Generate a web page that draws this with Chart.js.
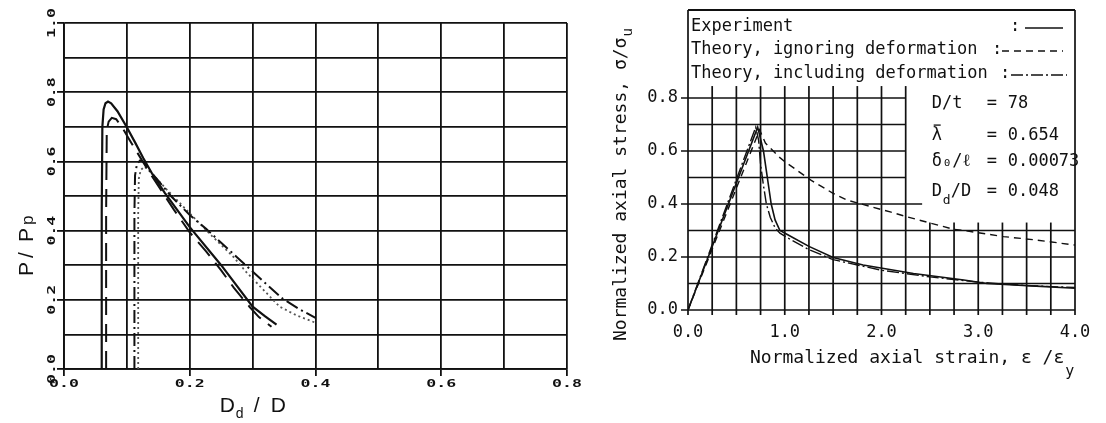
<!DOCTYPE html>
<html>
<head>
<meta charset="utf-8">
<script src="https://cdn.jsdelivr.net/npm/chart.js@4.4.1/dist/chart.umd.min.js"></script>
<style>
  html, body { margin: 0; padding: 0; background: #fff; }
  #wrap { position: relative; width: 1106px; height: 423px; overflow: hidden; }
  #leftBox { position: absolute; left: 0; top: 0; width: 585px; height: 423px; }
  #rightBox { position: absolute; left: 580px; top: 0; width: 526px; height: 423px; }
</style>
</head>
<body>
<div id="wrap">
  <div id="leftBox"><canvas id="dentChart"></canvas></div>
  <div id="rightBox"><canvas id="stressChart"></canvas></div>
</div>
<script>
// ---- left panel: P/Pp against dent depth Dd/D ----
const dentTicks = [0, 0.2, 0.4, 0.6, 0.8];
const loadTicks = [0, 0.2, 0.4, 0.6, 0.8, 1.0];

const testDentX = [0.060, 0.060, 0.061, 0.063, 0.066, 0.070, 0.075, 0.085, 0.0995, 0.113, 0.126, 0.140, 0.160, 0.180, 0.200, 0.250, 0.300, 0.320, 0.338];
const testLoadY = [0.000, 0.450, 0.700, 0.750, 0.768, 0.773, 0.768, 0.745, 0.700, 0.655, 0.610, 0.565, 0.510, 0.460, 0.410, 0.300, 0.180, 0.152, 0.128];

const calcADentX = [0.067, 0.067, 0.068, 0.071, 0.076, 0.083, 0.092, 0.105, 0.115, 0.137, 0.155, 0.175, 0.200, 0.226, 0.250, 0.270, 0.295, 0.310, 0.330];
const calcALoadY = [0.000, 0.450, 0.690, 0.715, 0.726, 0.722, 0.700, 0.660, 0.630, 0.565, 0.515, 0.460, 0.395, 0.340, 0.285, 0.235, 0.180, 0.150, 0.122];

const calcBDentX = [0.112, 0.112, 0.113, 0.116, 0.121, 0.127, 0.137, 0.152, 0.170, 0.200, 0.226, 0.250, 0.295, 0.325, 0.348, 0.375, 0.400];
const calcBLoadY = [0.000, 0.450, 0.560, 0.592, 0.603, 0.598, 0.572, 0.540, 0.500, 0.445, 0.405, 0.365, 0.290, 0.240, 0.203, 0.172, 0.148];

const calcCDentX = [0.118, 0.118, 0.119, 0.122, 0.128, 0.140, 0.160, 0.200, 0.235, 0.269, 0.290, 0.306, 0.343, 0.370, 0.401];
const calcCLoadY = [0.000, 0.450, 0.550, 0.575, 0.585, 0.565, 0.525, 0.450, 0.385, 0.325, 0.280, 0.250, 0.180, 0.155, 0.133];

// ---- right panel: normalized stress-strain ----
const strainTicks = [0, 1, 2, 3, 4];
const stressTicks = [0, 0.2, 0.4, 0.6, 0.8];
const seriesLabels = ['Experiment', 'Theory, ignoring deformation', 'Theory, including deformation'];

const expStrain = [0, 0.72, 0.78, 0.82, 0.86, 0.90, 0.95, 1.05, 1.25, 1.50, 1.81, 2.33, 2.85, 3.09, 3.60, 4.00];
const expStress = [0, 0.690, 0.600, 0.500, 0.400, 0.340, 0.300, 0.280, 0.240, 0.198, 0.170, 0.138, 0.113, 0.100, 0.090, 0.082];

const ignStrain = [0, 0.74, 0.80, 0.95, 1.00, 1.27, 1.50, 1.64, 2.09, 2.26, 2.74, 2.85, 3.26, 3.60, 4.00];
const ignStress = [0, 0.680, 0.630, 0.575, 0.560, 0.490, 0.440, 0.415, 0.370, 0.352, 0.305, 0.300, 0.277, 0.264, 0.245];

const incStrain = [0, 0.70, 0.73, 0.75, 0.78, 0.81, 0.85, 0.90, 0.95, 1.05, 1.25, 1.50, 2.00, 2.50, 3.00, 3.50, 4.00];
const incStress = [0, 0.690, 0.640, 0.550, 0.470, 0.400, 0.350, 0.310, 0.290, 0.268, 0.228, 0.190, 0.150, 0.125, 0.105, 0.092, 0.085];

const INK = '#111';

function pts(xs, ys) {
  return xs.map((x, i) => ({ x: x, y: ys[i] }));
}

function curve(label, xs, ys, dash, width, color) {
  return {
    label: label,
    data: pts(xs, ys),
    showLine: true,
    borderColor: color || INK,
    borderWidth: width,
    borderDash: dash,
    pointRadius: 0,
    tension: 0,
    fill: false
  };
}

function stretched(ctx, text, x, y, angle) {
  ctx.save();
  ctx.translate(x, y);
  ctx.rotate(angle);
  ctx.scale(1.5, 1);
  ctx.fillText(text, 0, 0);
  ctx.restore();
}

// keep the plot box exactly where the layout padding puts it
function noLabelPadding(s) {
  s.paddingTop = 0;
  s.paddingBottom = 0;
}

// plotter style tick labels and titles for the left panel
const dentLabels = {
  id: 'dentLabels',
  afterDraw(chart) {
    const { ctx, chartArea: a, scales: { x, y } } = chart;
    ctx.save();
    ctx.fillStyle = INK;
    ctx.font = 'bold 11px "DejaVu Sans Mono"';
    ctx.textAlign = 'center';
    ctx.textBaseline = 'middle';
    dentTicks.forEach(v => stretched(ctx, v.toFixed(1), x.getPixelForValue(v), a.bottom + 15, 0));
    loadTicks.forEach(v => stretched(ctx, v.toFixed(1), a.left - 12, y.getPixelForValue(v), -Math.PI / 2));

    ctx.textAlign = 'left';
    ctx.textBaseline = 'alphabetic';
    const big = '21px "Liberation Sans"';
    const small = '14px "Liberation Sans"';
    const tx = x.getPixelForValue(0.3) - 33;
    const ty = a.bottom + 43;
    ctx.font = big;
    ctx.fillText('D', tx, ty);
    ctx.font = small;
    ctx.fillText('d', tx + 16, ty + 6);
    ctx.font = big;
    ctx.fillText('/', tx + 34, ty);
    ctx.fillText('D', tx + 51, ty);

    ctx.translate(a.left - 31, y.getPixelForValue(0.37) + 35);
    ctx.rotate(-Math.PI / 2);
    ctx.font = big;
    ctx.fillText('P', 0, 0);
    ctx.fillText('/', 18, 0);
    ctx.fillText('P', 34, 0);
    ctx.font = '17px "Liberation Sans"';
    ctx.fillText('p', 51, 0);
    ctx.restore();
  }
};

new Chart(document.getElementById('dentChart'), {
  type: 'scatter',
  data: {
    datasets: [
      curve('test', testDentX, testLoadY, [], 2.2),
      curve('calc A', calcADentX, calcALoadY, [18, 9], 2),
      curve('calc B', calcBDentX, calcBLoadY, [13, 4, 2, 4], 2),
      curve('calc C', calcCDentX, calcCLoadY, [2, 3], 1.8, '#555')
    ]
  },
  options: {
    animation: false,
    responsive: true,
    maintainAspectRatio: false,
    devicePixelRatio: 1,
    layout: { padding: { top: 23, right: 18, left: 0, bottom: 0 } },
    plugins: { legend: { display: false }, tooltip: { enabled: false } },
    scales: {
      x: {
        type: 'linear', min: 0, max: 0.8,
        ticks: { display: false, stepSize: 0.1 },
        grid: {
          color: INK, lineWidth: 1.8, drawTicks: true, tickLength: 7,
          tickColor: c => (Math.round(c.tick.value * 10) % 2 === 0 ? INK : 'rgba(0,0,0,0)')
        },
        border: { color: INK, width: 1.8 },
        afterFit: s => { s.height = 54; }
      },
      y: {
        type: 'linear', min: 0, max: 1.0,
        ticks: { display: false, stepSize: 0.1 },
        grid: {
          color: INK, lineWidth: 1.8, drawTicks: true, tickLength: 7,
          tickColor: c => (Math.round(c.tick.value * 10) % 2 === 0 ? INK : 'rgba(0,0,0,0)')
        },
        border: { color: INK, width: 1.8 },
        afterFit: s => { s.width = 64; noLabelPadding(s); }
      }
    }
  },
  plugins: [dentLabels]
});

// grid, legend box, parameter block and titles for the right panel
const stressFrame = {
  id: 'stressFrame',
  beforeDatasetsDraw(chart) {
    const { ctx, scales: { x, y } } = chart;
    const X = v => x.getPixelForValue(v);
    const Y = v => y.getPixelForValue(v);
    const seg = (x1, y1, x2, y2) => { ctx.beginPath(); ctx.moveTo(x1, y1); ctx.lineTo(x2, y2); ctx.stroke(); };
    ctx.save();
    ctx.strokeStyle = INK;
    ctx.lineWidth = 1.7;
    for (let i = 0; i <= 8; i++) {
      const end = i <= 3 ? 4 : (i === 4 ? 2.42 : 2.25);
      seg(X(0) - (i % 2 ? 0 : 7), Y(i / 10), X(end), Y(i / 10));
    }
    for (let j = 0; j <= 16; j++) {
      const top = (j === 0 || j === 16) ? y.max : (j <= 9 ? 0.845 : 0.33);
      seg(X(j / 4), Y(0) + 5, X(j / 4), Y(top));
    }
    ctx.lineWidth = 2;
    seg(X(0), Y(y.max), X(4), Y(y.max));
    ctx.restore();
  },
  afterDraw(chart) {
    const { ctx, chartArea: a, scales: { x, y } } = chart;
    const Y = v => y.getPixelForValue(v);
    const mono = s => s + 'px "DejaVu Sans Mono"';
    ctx.save();
    ctx.fillStyle = INK;
    ctx.strokeStyle = INK;
    ctx.textBaseline = 'middle';
    ctx.textAlign = 'left';

    // legend rows
    const rows = [
      { y: a.top + 17, colon: 430, from: 445, to: 483 },
      { y: a.top + 40, colon: 412, from: 422, to: 483 },
      { y: a.top + 64, colon: 420, from: 431, to: 487 }
    ];
    chart.data.datasets.forEach((ds, i) => {
      const r = rows[i];
      ctx.font = mono(17);
      ctx.fillText(ds.label, a.left + 3, r.y);
      ctx.fillText(':', r.colon, r.y);
      ctx.lineWidth = 1.4;
      ctx.setLineDash(ds.borderDash || []);
      ctx.beginPath();
      ctx.moveTo(r.from, r.y + 1);
      ctx.lineTo(r.to, r.y + 1);
      ctx.stroke();
    });
    ctx.setLineDash([]);

    // specimen parameters
    const px = x.getPixelForValue(2.25) + 26;
    ctx.font = mono(17);
    ctx.fillText('D/t', px, Y(0.78));
    ctx.fillText('λ', px, Y(0.66));
    ctx.lineWidth = 1.3;
    ctx.beginPath();
    ctx.moveTo(px + 2, Y(0.66) - 10);
    ctx.lineTo(px + 9, Y(0.66) - 10);
    ctx.stroke();
    ctx.fillText('δ\u2080/\u2113', px, Y(0.56));
    ctx.fillText('D', px, Y(0.445));
    ctx.font = mono(13);
    ctx.fillText('d', px + 11, Y(0.445) + 9);
    ctx.font = mono(17);
    ctx.fillText('/D', px + 19, Y(0.445));
    const eq = px + 55, val = px + 76;
    [['78', 0.78], ['0.654', 0.66], ['0.00073', 0.56], ['0.048', 0.445]].forEach(p => {
      ctx.fillText('=', eq, Y(p[1]));
      ctx.fillText(p[0], val, Y(p[1]));
    });

    // axis titles
    ctx.font = mono(18);
    ctx.fillText('Normalized axial strain, \u03b5 /\u03b5', 170, 358);
    let w = ctx.measureText('Normalized axial strain, \u03b5 /\u03b5').width;
    ctx.font = mono(15);
    ctx.fillText('y', 170 + w + 1, 372);

    ctx.translate(41, 341);
    ctx.rotate(-Math.PI / 2);
    ctx.font = mono(18);
    ctx.fillText('Normalized axial stress, \u03c3/\u03c3', 0, 0);
    w = ctx.measureText('Normalized axial stress, \u03c3/\u03c3').width;
    ctx.font = mono(14);
    ctx.fillText('u', w + 1, 7);
    ctx.restore();
  }
};

new Chart(document.getElementById('stressChart'), {
  type: 'scatter',
  data: {
    datasets: [
      curve(seriesLabels[0], expStrain, expStress, [], 1.6),
      curve(seriesLabels[1], ignStrain, ignStress, [7, 5], 1.4),
      curve(seriesLabels[2], incStrain, incStress, [12, 3, 2, 3], 1.4)
    ]
  },
  options: {
    animation: false,
    responsive: true,
    maintainAspectRatio: false,
    devicePixelRatio: 1,
    layout: { padding: { top: 10, right: 31, left: 0, bottom: 0 } },
    plugins: { legend: { display: false }, tooltip: { enabled: false } },
    scales: {
      x: {
        type: 'linear', min: 0, max: 4,
        afterBuildTicks: ax => { ax.ticks = strainTicks.map(v => ({ value: v })); },
        ticks: {
          color: INK, padding: 12, maxRotation: 0, autoSkip: false,
          font: { family: 'DejaVu Sans Mono', size: 17 },
          callback: v => Number(v).toFixed(1)
        },
        grid: { display: false, drawTicks: false },
        border: { display: false },
        afterFit: s => { s.height = 113; }
      },
      y: {
        type: 'linear', min: 0, max: 1.132,
        afterBuildTicks: ax => { ax.ticks = stressTicks.map(v => ({ value: v })); },
        ticks: {
          color: INK, padding: 10, autoSkip: false,
          font: { family: 'DejaVu Sans Mono', size: 17 },
          callback: v => Number(v).toFixed(1)
        },
        grid: { display: false, drawTicks: false },
        border: { display: false },
        afterFit: s => { s.width = 108; noLabelPadding(s); }
      }
    }
  },
  plugins: [stressFrame]
});
</script>
</body>
</html>
